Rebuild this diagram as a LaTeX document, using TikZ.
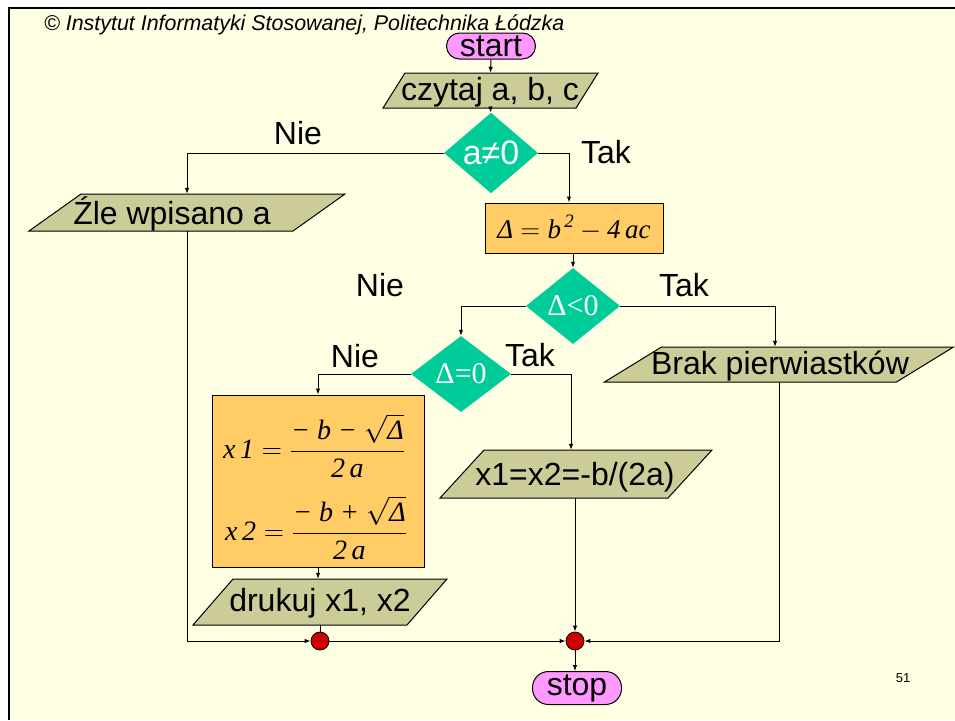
\documentclass[tikz,border=0pt]{standalone}
\usepackage{fix-cm}
\usepackage{amsmath}
\usepackage{fontspec}
\setmainfont{Liberation Sans}
\newfontfamily\tms{Liberation Serif}
\usetikzlibrary{shapes.geometric,arrows.meta}

\definecolor{pagecol}{HTML}{FFFFE3}
\definecolor{paracol}{HTML}{CCCC99}
\definecolor{boxcol}{HTML}{FFCC66}
\definecolor{decicol}{HTML}{00CC99}
\definecolor{termcol}{HTML}{FF99FF}
\definecolor{joincol}{HTML}{CC0000}

\tikzset{
  big/.style={font=\fontsize{32}{38}\selectfont},
  lbl/.style={big, inner sep=0pt},
  body/.style={draw=none, inner sep=0pt, rectangle},
  parashape/.style={fill=paracol, draw=black, line width=1pt},
  decision/.style={diamond, fill=decicol, inner sep=0pt, text=white, font=\fontsize{34}{40}\selectfont},
  process/.style={rectangle, fill=boxcol, draw=black, line width=1pt, inner sep=0pt},
  terminal/.style={rectangle, rounded corners=13pt, fill=termcol, draw=black, line width=1pt, inner sep=0pt, big},
  junction/.style={circle, fill=joincol, draw=black, line width=0.8pt, minimum size=18pt, inner sep=0pt},
  flow/.style={line width=1pt, -{Latex[length=6pt,width=4.5pt]}},
  plain/.style={line width=1pt},
  fml/.style={inner sep=0pt, font=\fontsize{28}{32}\selectfont}
}

% parallelogram: name, cx, cy, width, height, slant, text x, text y, text
\newcommand{\parabox}[9]{%
  \draw[parashape] (#2-#4/2-#6/2, #3+#5/2) -- (#2+#4/2-#6/2, #3+#5/2)
     -- (#2+#4/2+#6/2, #3-#5/2) -- (#2-#4/2+#6/2, #3-#5/2) -- cycle;
  \node[body, minimum width=#4pt, minimum height=#5pt] (#1) at (#2,#3) {};
  \node[lbl] (#1-t) at (#7,#8) {#9};
}

\begin{document}
\begin{tikzpicture}[x=1pt, y=-1pt]
  \useasboundingbox (0,0) rectangle (955,720);
  \fill[white] (0,0) rectangle (955,720);
  \fill[pagecol] (9,8) rectangle (955,720);
  \draw[line width=2.5pt] (9,720) -- (9,8) -- (955,8);

  \node[inner sep=0pt, font=\fontsize{13}{15}\selectfont] (pg) at (903,678) {51};

  % terminals
  \node[terminal, minimum width=89pt, minimum height=26pt] (start) at (491,46) {start};
  \node[terminal, minimum width=89pt, minimum height=33pt, rounded corners=16pt] (stop) at (577,688) {stop};

  % input / output
  \parabox{czy}{490.5}{90.5}{193}{35}{22}{490}{92}{czytaj a, b, c}
  \parabox{zle}{187}{212.5}{264}{37}{52}{172}{214}{Źle wpisano a}
  \parabox{brak}{779}{364.5}{292}{35}{57}{780}{366}{Brak pierwiastków}
  \parabox{x12}{576}{474}{228}{48}{44}{575}{477}{x1=x2=-b/(2a)}
  \parabox{druk}{320}{602}{214}{46}{40}{320}{603}{drukuj x1, x2}

  % decisions
  \node[decision, minimum width=94pt, minimum height=76pt] (d1) at (491,153) {a≠0};
  \node[decision, minimum width=94pt, minimum height=76pt, font=\fontsize{30}{36}\selectfont] (d2) at (573,306) {\tms Δ<0};
  \node[decision, minimum width=100pt, minimum height=76pt, font=\fontsize{30}{36}\selectfont] (d3) at (461,374) {\tms Δ=0};

  % processes
  \node[process, minimum width=178pt, minimum height=50pt, font=\fontsize{27}{32}\selectfont] (r1) at (574,228)
    {$\text{\tms\itshape Δ} = \text{\tms\itshape b}^{\,\text{\tms\itshape 2}} - \text{\tms\itshape 4\,ac}$};
  \node[process, minimum width=212pt, minimum height=172pt] (fbox) at (318,481) {};
  \node[fml] (f1) at (314,446)
    {$\displaystyle \text{\tms\itshape x\,1} = \frac{\text{\tms\itshape − b − }\sqrt{\text{\tms\itshape Δ}}}{\text{\tms\itshape 2\,a}}$};
  \node[fml] (f2) at (316,528)
    {$\displaystyle \text{\tms\itshape x\,2} = \frac{\text{\tms\itshape − b + }\sqrt{\text{\tms\itshape Δ}}}{\text{\tms\itshape 2\,a}}$};

  % junctions
  \node[junction] (c1) at (320,641) {};
  \node[junction] (c2) at (575,641) {};

  % branch labels
  \node[lbl] (n1) at (298,133) {Nie};
  \node[lbl] (t1) at (606,152) {Tak};
  \node[lbl] (n2) at (380,285) {Nie};
  \node[lbl] (t2) at (684,285) {Tak};
  \node[lbl] (n3) at (355,356) {Nie};
  \node[lbl] (t3) at (530,355) {Tak};

  % connectors
  \draw[flow] (start.south) -- (czy.north);
  \draw[flow] (czy.south) -- (d1.north);
  \draw[flow] (d1.west) -| (zle.north);
  \draw[flow] (d1.east) -| ([xshift=-5pt]r1.north);
  \draw[flow] (r1.south -| d2.north) -- (d2.north);
  \draw[flow] (d2.west) -| (d3.north);
  \draw[flow] (d2.east) -| ([xshift=-4pt]brak.north);
  \draw[flow] (d3.west) -| (fbox.north);
  \draw[flow] (d3.east) -| ([xshift=-5pt]x12.north);
  \draw[flow] (fbox.south) -- (fbox.south |- druk.north);
  \draw[plain] (druk.south) -- (c1.north);
  \draw[flow] (zle.south) |- (c1.west);
  \draw[flow] (c1.east) -- (c2.west);
  \draw[flow] (x12.south -| c2.north) -- (c2.north);
  \draw[flow] (brak.south) |- (c2.east);
  \draw[flow] (c2.south) -- (c2.south |- stop.north);

  % header line, set over the top of the start terminal
  \node[anchor=west, inner sep=0pt, font=\fontsize{21.4}{24}\selectfont\itshape] (hdr) at (44,25)
    {\textcopyright\ Instytut Informatyki Stosowanej, Politechnika Łódzka};
\end{tikzpicture}
\end{document}
